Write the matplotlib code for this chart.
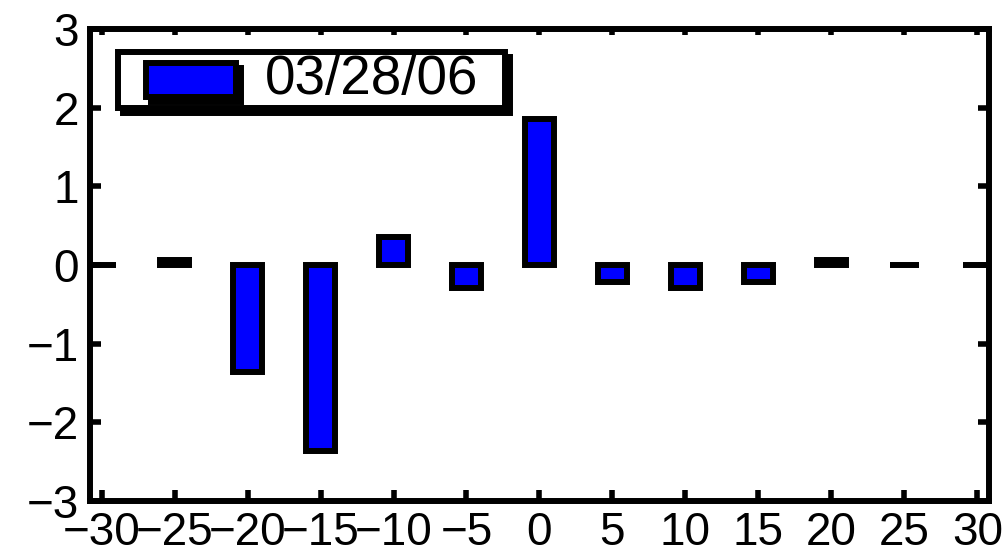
import matplotlib
matplotlib.use("Agg")
import matplotlib.pyplot as plt
from matplotlib.patches import Rectangle
from matplotlib.transforms import ScaledTranslation

plt.rcParams['font.family'] = ['Liberation Sans', 'DejaVu Sans']

# lag (days) and the response at each lag
lags = [-30, -25, -20, -15, -10, -5, 0, 5, 10, 15, 20, 25, 30]
values = [0.0, 0.06, -1.36, -2.36, 0.36, -0.29, 1.86, -0.22, -0.29, -0.22, 0.06, 0.0, 0.0]
series_label = "03/28/06"
x_ticks = [-30, -25, -20, -15, -10, -5, 0, 5, 10, 15, 20, 25, 30]
y_ticks = [-3, -2, -1, 0, 1, 2, 3]

fig = plt.figure(figsize=(10.04, 5.56), dpi=100)
ax = fig.add_axes([0.0896, 0.0989, 0.8954, 0.8489])

ax.bar(lags, values, width=2.0, color="#0000ff", edgecolor="black", linewidth=4.3)

ax.set_xlim(-30.8, 30.8)
ax.set_ylim(-3, 3)
ax.set_xticks(x_ticks)
ax.set_yticks(y_ticks)

for s in ax.spines.values():
    s.set_linewidth(4.3)

ax.tick_params(axis='both', direction='in', length=8, width=4, labelsize=33)
ax.tick_params(axis='y', right=True, pad=8)
ax.tick_params(axis='x', pad=7)

# shorter ticks along the top edge
top = ax.secondary_xaxis('top')
top.set_xticks(x_ticks)
top.set_xticklabels([])
top.tick_params(direction='in', length=4.3, width=4)
top.spines['top'].set_visible(False)

# legend box with a solid drop shadow
shift = ax.transAxes + ScaledTranslation(3.6 / 72, -3.6 / 72, fig.dpi_scale_trans)
boxes = [((0.0311, 0.8326), 0.4305, 0.1187, "white", 5),
         ((0.0623, 0.856), 0.1001, 0.072, "#0000ff", 7)]
for xy, w, h, fc, z in boxes:
    ax.add_patch(Rectangle(xy, w, h, transform=shift, facecolor="black",
                           edgecolor="black", linewidth=4.3, zorder=z - 0.5))
    ax.add_patch(Rectangle(xy, w, h, transform=ax.transAxes, facecolor=fc,
                           edgecolor="black", linewidth=4.3, zorder=z))
ax.text(0.195, 0.892, series_label, transform=ax.transAxes, fontsize=39.5,
        va='center', ha='left', zorder=8)

fig.savefig("out.png", dpi=100)
